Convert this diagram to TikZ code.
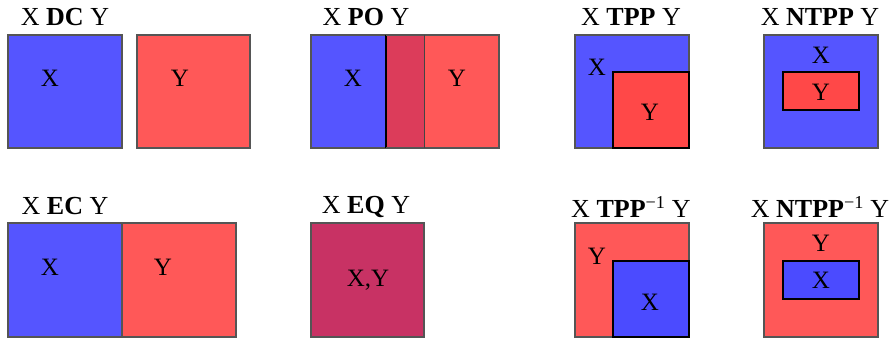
\documentclass[tikz,border=0pt]{standalone}
\usepackage{fontspec}
\setmainfont{Liberation Serif}
\definecolor{myblue}{RGB}{85,85,255}
\definecolor{myred}{RGB}{255,88,88}
\definecolor{inred}{RGB}{255,72,72}
\definecolor{inblue}{RGB}{75,75,255}
\definecolor{ovl}{RGB}{220,60,90}
\definecolor{eqc}{RGB}{200,50,100}
\definecolor{edge}{RGB}{85,85,85}
\tikzset{
  bluebox/.style={fill=myblue,draw=edge,line width=1.1pt},
  redbox/.style={fill=myred,draw=edge,line width=1.1pt},
  inredbox/.style={fill=inred,draw=black,line width=1.2pt},
  inbluebox/.style={fill=inblue,draw=black,line width=1.2pt},
  lbl/.style={font=\fontsize{25}{30}\selectfont,text height=17pt,text depth=0pt,inner sep=0pt},
  ttl/.style={font=\fontsize{26}{31}\selectfont,text height=17.5pt,text depth=0pt,inner sep=0pt}
}
\begin{document}
\begin{tikzpicture}[x=1pt,y=-1pt]
\useasboundingbox (0,0) rectangle (894,339);
% DC
\node[ttl] (tdc) at (65,16.5) {X \textbf{DC} Y};
\draw[bluebox] (8,35) rectangle (122,148);
\draw[redbox] (137,35) rectangle (250,148);
\node[lbl] (dcx) at (50,78) {X};
\node[lbl] (dcy) at (180,78) {Y};
% PO
\node[ttl] (tpo) at (366,16.5) {X \textbf{PO} Y};
\draw[bluebox] (311,35) rectangle (424,148);
\draw[redbox] (386,35) rectangle (499,148);
\fill[ovl] (386,35) rectangle (424,148);
\draw[black,line width=1.1pt] (386,35) -- (386,148);
\draw[edge!80!black,line width=0.8pt] (424,35) -- (424,148);
\draw[edge,line width=1.1pt] (386,35) -- (424,35) (386,148) -- (424,148);
\node[lbl] (pox) at (353,78) {X};
\node[lbl] (poy) at (457,78) {Y};
% TPP
\node[ttl] (ttpp) at (631,16.5) {X \textbf{TPP} Y};
\draw[bluebox] (575,35) rectangle (689,148);
\draw[inredbox] (613,72) rectangle (689,148);
\node[lbl] (tppx) at (597,67) {X};
\node[lbl] (tppy) at (650,112) {Y};
% NTPP
\node[ttl] (tntpp) at (820,16.5) {X \textbf{NTPP} Y};
\draw[bluebox] (764,35) rectangle (878,148);
\draw[inredbox] (783,72) rectangle (859,110);
\node[lbl] (ntppx) at (821,55) {X};
\node[lbl] (ntppy) at (821,92) {Y};
% EC
\node[ttl] (tec) at (65,205.5) {X \textbf{EC} Y};
\draw[bluebox] (8,223) rectangle (122,337);
\draw[redbox] (122,223) rectangle (236,337);
\node[lbl] (ecx) at (50,267) {X};
\node[lbl] (ecy) at (163,267) {Y};
% EQ
\node[ttl] (teq) at (366,204.5) {X \textbf{EQ} Y};
\draw[fill=eqc,draw=edge,line width=1.1pt] (311,223) rectangle (424,337);
\node[lbl] (eqxy) at (368,278) {X,Y};
% TPP^-1
\node[ttl] (ttppi) at (631,208.5) {X \textbf{TPP}\textsuperscript{−1} Y};
\draw[redbox] (575,223) rectangle (689,337);
\draw[inbluebox] (613,261) rectangle (689,337);
\node[lbl] (tppiy) at (597,256) {Y};
\node[lbl] (tppix) at (650,302) {X};
% NTPP^-1
\node[ttl] (tntppi) at (820,208.5) {X \textbf{NTPP}\textsuperscript{−1} Y};
\draw[redbox] (764,223) rectangle (878,337);
\draw[inbluebox] (783,261) rectangle (859,299);
\node[lbl] (ntppiy) at (821,243) {Y};
\node[lbl] (ntppix) at (821,280) {X};
\end{tikzpicture}
\end{document}
